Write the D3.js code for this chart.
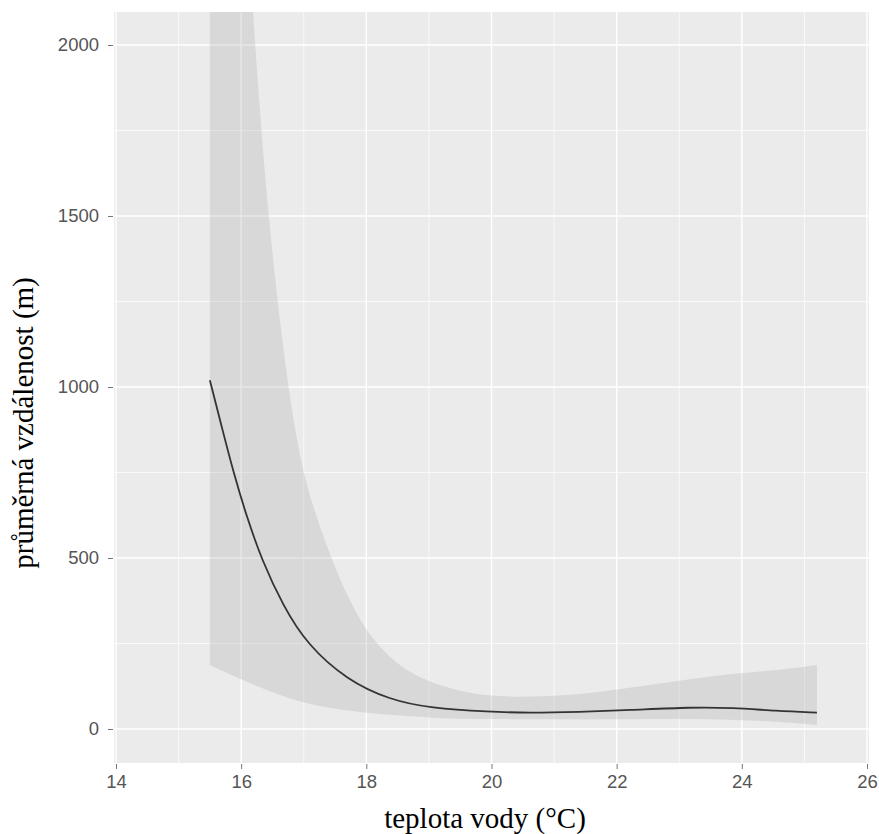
<!DOCTYPE html>
<html>
<head>
<meta charset="utf-8">
<script src="https://cdn.jsdelivr.net/npm/d3@7"></script>
<style>
	body { margin: 0; background: #fff; }
</style>
</head>
<body>
<div id="chart"></div>
<script>
(function(window){
	'use strict';

	// loess fit
	var fitX = [15.5, 15.69, 15.88, 16.09, 16.33, 16.67, 17.05, 17.69, 18.38, 19.02, 19.97, 20.6, 21.4, 22.2, 23.2, 23.85, 24.55, 25.2];
	var fitY = [1020, 883, 748, 620, 494, 360, 248, 143, 85, 61, 50, 47, 50, 55, 64, 62, 53, 48];

	// confidence band (upper edge runs off the top of the panel)
	var hiX = [15.5, 15.75, 16.0, 16.18, 16.42, 16.74, 16.97, 17.2, 17.44, 17.63, 17.85, 18.06, 18.38, 18.7, 19.02, 19.5, 19.97, 20.6, 21.4, 22.2, 23.05, 23.96, 24.5, 25.2];
	var hiY = [5400, 3800, 2700, 2095, 1500, 1000, 760, 620, 500, 415, 335, 272, 207, 165, 136, 110, 96, 93, 100, 120, 143, 164, 170, 187];
	var loX = [15.5, 16.0, 16.5, 16.97, 17.5, 18.06, 18.38, 19.02, 19.5, 20.0, 21.0, 22.2, 23.05, 23.96, 24.5, 25.2];
	var loY = [187, 145, 107, 77, 58, 47, 41, 33, 30, 29, 28, 28, 30, 26, 22, 12];

	var xTicks = [14, 16, 18, 20, 22, 24, 26];
	var xMinor = [15, 17, 19, 21, 23, 25];
	var yTicks = [0, 500, 1000, 1500, 2000];
	var yMinor = [250, 750, 1250, 1750];

	var xTitle = 'teplota vody (\u00b0C)';
	var yTitle = 'pr\u016fm\u011brn\u00e1 vzd\u00e1lenost (m)';

	var W = 879, H = 834;
	var panel = { left: 114, right: 869, top: 12, bottom: 763 };

	var x = d3.scaleLinear().domain([14, 26]).range([116, 867]);
	var y = d3.scaleLinear().domain([0, 2000]).range([729, 45]);

	var svg = d3.select('#chart').append('svg')
		.attr('width', W).attr('height', H)
		.attr('style', "font-family: 'Liberation Sans', Arial, sans-serif");

	svg.append('defs').append('clipPath').attr('id', 'panelclip')
		.append('rect')
		.attr('x', panel.left).attr('y', panel.top)
		.attr('width', panel.right - panel.left).attr('height', panel.bottom - panel.top);

	svg.append('rect')
		.attr('x', panel.left).attr('y', panel.top)
		.attr('width', panel.right - panel.left).attr('height', panel.bottom - panel.top)
		.attr('fill', '#ebebeb');

	var grid = svg.append('g').attr('clip-path', 'url(#panelclip)');

	function gGrid(vals, vertical, width) {
		grid.selectAll(null).data(vals).enter().append('line')
			.attr('x1', function(d) { return vertical ? x(d) : panel.left; })
			.attr('x2', function(d) { return vertical ? x(d) : panel.right; })
			.attr('y1', function(d) { return vertical ? panel.top : y(d); })
			.attr('y2', function(d) { return vertical ? panel.bottom : y(d); })
			.attr('stroke', '#fff').attr('stroke-width', width);
	}
	gGrid(xMinor, true, 0.7);
	gGrid(yMinor, false, 0.7);
	gGrid(xTicks, true, 1.4);
	gGrid(yTicks, false, 1.4);

	var smooth = d3.curveBasis;

	// band = upper edge left->right, then lower edge right->left
	var hiPath = d3.line()
		.x(function(d, i) { return x(hiX[i]); })
		.y(function(d) { return y(d); })
		.curve(smooth)(hiY);
	var loRev = loY.slice().reverse();
	var loXRev = loX.slice().reverse();
	var loPath = d3.line()
		.x(function(d, i) { return x(loXRev[i]); })
		.y(function(d) { return y(d); })
		.curve(smooth)(loRev);

	var plot = svg.append('g').attr('clip-path', 'url(#panelclip)');
	plot.append('path')
		.attr('d', hiPath + 'L' + loPath.slice(1) + 'Z')
		.attr('fill', '#999').attr('fill-opacity', 0.24);

	var fit = fitX.map(function(d, i) { return { x: d, y: fitY[i] }; });
	plot.append('path').datum(fit)
		.attr('d', d3.line()
			.x(function(d) { return x(d.x); })
			.y(function(d) { return y(d.y); })
			.curve(smooth))
		.attr('fill', 'none').attr('stroke', '#333').attr('stroke-width', 1.8);

	// axes
	var yAxis = svg.append('g').attr('transform', 'translate(113,0)')
		.call(d3.axisLeft(y).tickValues(yTicks).tickFormat(d3.format('d')).tickSize(5).tickPadding(9));
	var xAxis = svg.append('g').attr('transform', 'translate(0,764)')
		.call(d3.axisBottom(x).tickValues(xTicks).tickFormat(d3.format('d')).tickSize(5).tickPadding(6));

	[yAxis, xAxis].forEach(function(ax) {
		ax.select('.domain').remove();
		ax.selectAll('.tick line').attr('stroke', '#777');
		ax.selectAll('.tick text')
			.attr('fill', '#555')
			.attr('font-size', '18.5px')
			.attr('font-family', "'Liberation Sans', Arial, sans-serif");
	});

	svg.append('text')
		.attr('x', 485).attr('y', 828)
		.attr('text-anchor', 'middle')
		.attr('font-family', "'Liberation Serif', 'Times New Roman', serif")
		.attr('font-size', '29px')
		.attr('fill', '#000')
		.text(xTitle);

	svg.append('text')
		.attr('transform', 'translate(33,423) rotate(-90)')
		.attr('text-anchor', 'middle')
		.attr('font-family', "'Liberation Serif', 'Times New Roman', serif")
		.attr('font-size', '29px')
		.attr('fill', '#000')
		.text(yTitle);

})(window);
</script>
</body>
</html>
